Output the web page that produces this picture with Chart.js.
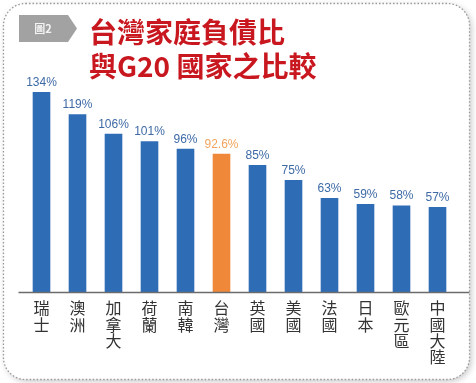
<!DOCTYPE html>
<html>
<head>
<meta charset="utf-8">
<script src="https://cdn.jsdelivr.net/npm/chart.js@4"></script>
<style>
html,body{margin:0;padding:0;background:#fff;}
canvas{display:block;}
</style>
</head>
<body>
<canvas id="c" width="476" height="383"></canvas>
<script>
const categories = ['瑞士','澳洲','加拿大','荷蘭','南韓','台灣','英國','美國','法國','日本','歐元區','中國大陸'];
const values = [134, 119, 106, 101, 96, 92.6, 85, 75, 63, 59, 58, 57];
const valueLabels = ['134%','119%','106%','101%','96%','92.6%','85%','75%','63%','59%','58%','57%'];
const highlight = '台灣';
const titleLines = ['台灣家庭負債比', '與G20 國家之比較'];
const badgeText = '圖2';

const BLUE = '#2f6cb6';
const ORANGE = '#f0883a';
const barColors = categories.map(c => c === highlight ? ORANGE : BLUE);
const labelColors = categories.map(c => c === highlight ? '#f2a55e' : '#3e6aa6');

function roundRect(ctx, x, y, w, h, r) {
  ctx.beginPath();
  ctx.moveTo(x + r, y);
  ctx.lineTo(x + w - r, y);
  ctx.arcTo(x + w, y, x + w, y + r, r);
  ctx.lineTo(x + w, y + h - r);
  ctx.arcTo(x + w, y + h, x + w - r, y + h, r);
  ctx.lineTo(x + r, y + h);
  ctx.arcTo(x, y + h, x, y + h - r, r);
  ctx.lineTo(x, y + r);
  ctx.arcTo(x, y, x + r, y, r);
  ctx.closePath();
}

const decor = {
  id: 'decor',
  beforeDraw(chart) {
    const ctx = chart.ctx;
    ctx.save();
    ctx.fillStyle = '#ffffff';
    ctx.fillRect(0, 0, chart.width, chart.height);
    // frame with shadow
    ctx.shadowColor = 'rgba(0,0,0,0.22)';
    ctx.shadowBlur = 6;
    ctx.shadowOffsetX = 2;
    ctx.shadowOffsetY = 2;
    roundRect(ctx, 3.5, 3.5, 466, 376, 22);
    ctx.fillStyle = '#ffffff';
    ctx.fill();
    ctx.shadowColor = 'transparent';
    ctx.setLineDash([1.5, 2]);
    ctx.lineWidth = 1.3;
    ctx.strokeStyle = '#9a9a9a';
    ctx.stroke();
    ctx.setLineDash([]);
    // badge
    ctx.beginPath();
    ctx.moveTo(19, 15);
    ctx.lineTo(68, 15);
    ctx.lineTo(77, 28.5);
    ctx.lineTo(68, 42);
    ctx.lineTo(19, 42);
    ctx.closePath();
    ctx.fillStyle = '#a2a2a2';
    ctx.fill();
    ctx.fillStyle = '#f4f4f4';
    ctx.font = 'bold 11px "Noto Sans CJK TC", sans-serif';
    ctx.textAlign = 'center';
    ctx.textBaseline = 'middle';
    ctx.fillText(badgeText, 43, 29);
    // title
    ctx.fillStyle = '#c8171e';
    ctx.font = 'bold 28px "Noto Sans CJK TC", sans-serif';
    ctx.textAlign = 'left';
    ctx.textBaseline = 'middle';
    ctx.fillText(titleLines[0], 89, 32);
    ctx.fillText(titleLines[1], 89, 66);
    ctx.restore();
  },
  afterDatasetsDraw(chart) {
    const ctx = chart.ctx;
    const meta = chart.getDatasetMeta(0);
    const area = chart.chartArea;
    const y0 = chart.scales.y.getPixelForValue(0);
    ctx.save();
    // axis line
    ctx.strokeStyle = '#6b6b6b';
    ctx.lineWidth = 1.3;
    ctx.beginPath();
    ctx.moveTo(area.left - 5, y0 + 0.5);
    ctx.lineTo(area.right + 14, y0 + 0.5);
    ctx.stroke();
    // value labels
    ctx.font = '12px "Liberation Sans", Arial, sans-serif';
    ctx.textAlign = 'center';
    ctx.textBaseline = 'alphabetic';
    meta.data.forEach((bar, i) => {
      ctx.fillStyle = labelColors[i];
      ctx.fillText(valueLabels[i], bar.x, bar.y - 6);
    });
    ctx.restore();
  }
};

new Chart(document.getElementById('c'), {
  type: 'bar',
  data: {
    labels: categories,
    datasets: [{
      data: values,
      backgroundColor: barColors,
      borderWidth: 0,
      barPercentage: 0.49,
      categoryPercentage: 1
    }]
  },
  options: {
    responsive: false,
    animation: false,
    devicePixelRatio: 1,
    layout: { padding: { top: 83, left: 23.5, right: 20.5, bottom: 0 } },
    plugins: { legend: { display: false }, tooltip: { enabled: false }, title: { display: false } },
    scales: {
      x: {
        grid: { display: false, drawTicks: false },
        border: { display: false },
        afterFit(scale) { scale.height = 91; },
        ticks: {
          padding: 8,
          color: '#333333',
          maxRotation: 0,
          autoSkip: false,
          font: { family: '"Noto Sans CJK TC", sans-serif', size: 16, lineHeight: 1.02 },
          callback(value) { return Array.from(categories[value]); }
        }
      },
      y: {
        display: false,
        min: 0,
        max: 140
      }
    }
  },
  plugins: [decor]
});
</script>
</body>
</html>
